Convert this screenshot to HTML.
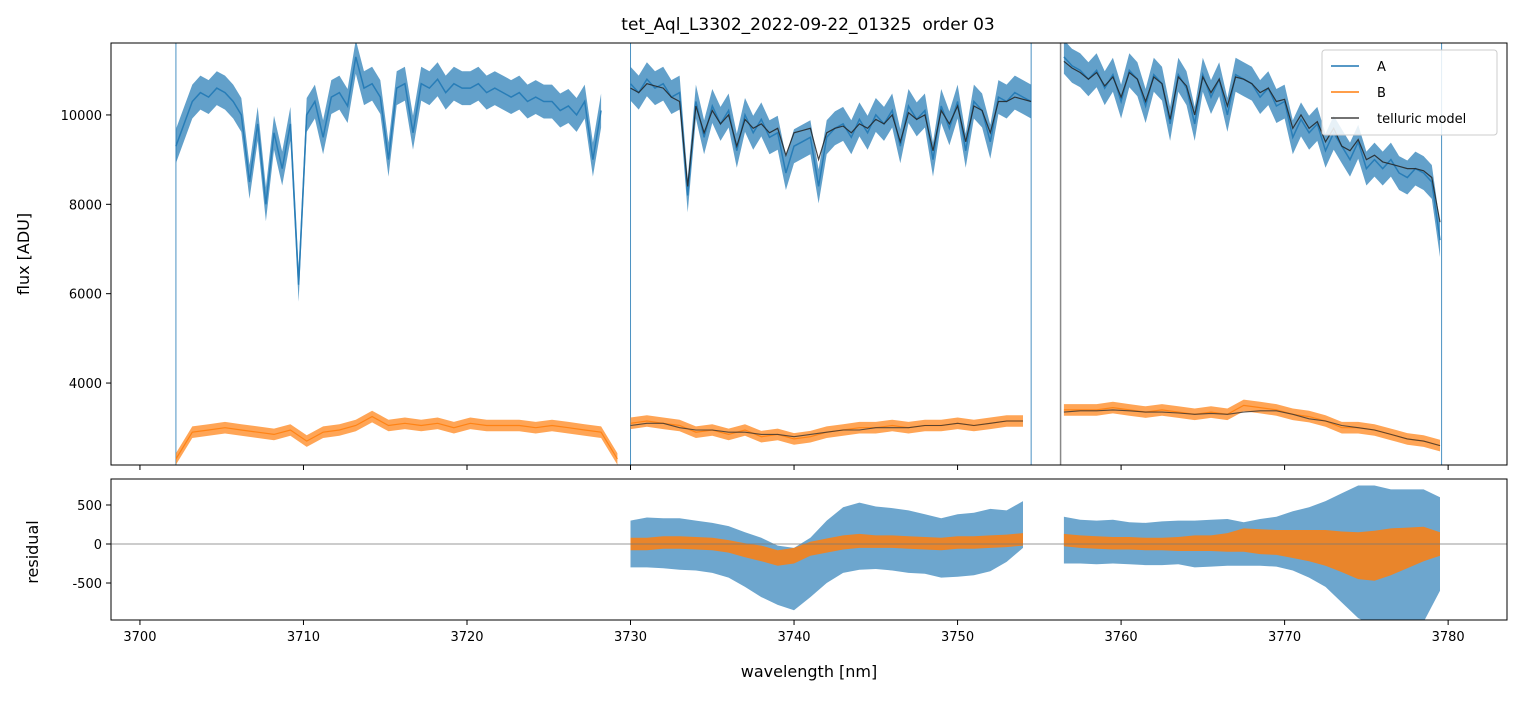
<!DOCTYPE html>
<html><head><meta charset="utf-8"><style>
body{margin:0;background:#fff;font-family:"Liberation Sans","DejaVu Sans",sans-serif}
svg text{font-family:"DejaVu Sans","Liberation Sans",sans-serif;white-space:pre}
</style></head><body>
<svg id="c" width="1520" height="696" xmlns="http://www.w3.org/2000/svg"></svg>
<script>
// ---- data ----
const seg1Start=3702.2, seg2Start=3730.0, seg3Start=3756.5, step=0.5;
const A1=[9300,9800,10300,10500,10400,10600,10500,10300,10000,8500,9800,8000,9600,8800,9800,6200,10000,10300,9500,10400,10500,10200,11300,10600,10700,10400,9000,10600,10700,9600,10700,10600,10800,10500,10700,10600,10600,10700,10500,10600,10500,10400,10500,10300,10400,10300,10300,10100,10200,10000,10300,9000,10100];
const A2=[10700,10500,10800,10600,10700,10400,10500,8200,10300,9500,10200,9800,10100,9200,10000,9600,9900,9500,9600,8700,9300,9400,9500,8400,9500,9700,9800,9500,9900,9600,10000,9800,10100,9300,10200,9900,10100,9000,10200,9700,10300,9200,10300,10100,9400,10400,10300,10500,10400,10300];
const M2=[10600,10500,10700,10650,10600,10400,10300,8400,10200,9600,10100,9800,10000,9300,9900,9700,9800,9600,9700,9100,9600,9650,9700,9000,9600,9700,9750,9600,9800,9700,9900,9800,10000,9400,10050,9900,10000,9200,10100,9800,10200,9400,10200,10100,9600,10300,10300,10400,10350,10300];
const A3=[11300,11100,11000,10800,11000,10600,10900,10300,11000,10800,10200,10900,10700,9800,10900,10600,9800,10900,10400,10800,10000,10900,10800,10700,10400,10600,10200,10300,9500,9900,9600,9800,9200,9600,9300,9000,9400,8800,9000,8800,9000,8700,8600,8800,8700,8500,7200];
const M3=[11200,11050,10950,10800,10950,10650,10850,10400,10950,10800,10300,10850,10700,9900,10850,10650,10000,10850,10500,10800,10200,10850,10800,10700,10500,10600,10300,10350,9700,10000,9700,9850,9400,9700,9300,9200,9450,9000,9100,8950,8900,8850,8800,8800,8750,8600,7600];
const B1=[2300,2900,2950,3000,2950,2900,2850,2950,2700,2900,2950,3050,3250,3050,3100,3050,3100,3000,3100,3050,3050,3050,3000,3050,3000,2950,2900,2300];
const B2=[3100,3150,3100,3050,2900,2950,2850,2950,2800,2850,2750,2800,2900,2950,3000,3000,3050,3000,3050,3050,3100,3050,3100,3150,3150];
const B3=[3400,3400,3400,3450,3400,3350,3400,3350,3300,3350,3300,3500,3450,3400,3300,3250,3150,3000,3000,2950,2850,2750,2700,2600];
const MB2=[3050,3100,3100,3000,2950,2950,2900,2900,2850,2850,2800,2850,2900,2950,2950,3000,3000,3000,3050,3050,3100,3050,3100,3150,3150];
const MB3=[3350,3380,3380,3400,3380,3350,3350,3330,3300,3320,3300,3350,3380,3380,3300,3200,3150,3050,3000,2950,2850,2750,2700,2600];
const resSeg2=3730, resSeg3=3756.5;
const RA2c=[0,20,10,0,-20,-50,-100,-200,-300,-400,-450,-300,-100,50,100,80,60,30,0,-50,-20,0,50,100,250];
const RA2s=[300,320,320,330,320,320,330,350,380,380,400,380,400,420,430,400,400,400,380,380,400,400,400,330,300];
const RA3c=[50,30,20,30,10,0,10,20,0,10,20,0,20,30,40,20,0,-50,-100,-150,-200,-200,-150,0];
const RA3s=[300,280,280,280,270,270,280,280,300,300,300,280,300,320,380,450,550,700,850,900,900,900,850,600];
const RB2c=[0,0,20,20,10,0,-30,-80,-120,-180,-150,-60,-20,20,40,30,30,20,10,0,20,20,30,40,60];
const RB2s=[80,80,80,80,80,80,80,90,100,100,100,90,90,90,90,80,80,80,80,80,80,80,80,80,80];
const RB3c=[50,30,20,10,10,0,0,0,10,10,20,50,30,20,0,-20,-50,-100,-150,-150,-100,-50,0,0];
const RB3s=[80,80,80,80,80,80,80,90,100,100,120,150,160,160,180,200,230,260,300,320,300,260,220,150];
const xTicks=[3700,3710,3720,3730,3740,3750,3760,3770,3780];
const yTicks=[4000,6000,8000,10000];
const rTicks=[500,0,-500];
const edges=[3702.2,3730.0,3754.5,3779.6];

// ---- axes ----
const L=111,R=1507,T1=43,B1y=465,T2=479,B2y=620;
const xmin=3698.23,xmax=3783.6,ymin=2166,ymax=11610,rmin=-974,rmax=833;
const X=v=>L+(v-xmin)/(xmax-xmin)*(R-L);
const Y=v=>B1y-(v-ymin)/(ymax-ymin)*(B1y-T1);
const YR=v=>B2y-(v-rmin)/(rmax-rmin)*(B2y-T2);
const svg=document.getElementById('c');const NS='http://www.w3.org/2000/svg';
function mk(tag,at,parent){const e=document.createElementNS(NS,tag);for(const k in at)e.setAttribute(k,at[k]);(parent||svg).appendChild(e);return e;}
const defs=mk('defs',{});
const cp1=mk('clipPath',{id:'cp1'},defs);mk('rect',{x:L,y:T1,width:R-L,height:B1y-T1},cp1);
const cp2=mk('clipPath',{id:'cp2'},defs);mk('rect',{x:L,y:T2,width:R-L,height:B2y-T2},cp2);
const g1=mk('g',{'clip-path':'url(#cp1)'});


const g2=mk('g',{'clip-path':'url(#cp2)'});



function line(arr,x0,st,fy,color,w,op,name,g){
  const pts=arr.map((v,i)=>X(x0+i*st).toFixed(1)+','+fy(v).toFixed(1)).join(' ');
  const e=mk('polyline',{points:pts,fill:'none',stroke:color,'stroke-width':w,opacity:op},g);
  
  
}
function band(arr,x0,st,fy,spread,color,op,name,g){
  const up=arr.map((v,i)=>X(x0+i*st).toFixed(1)+','+fy(v+spread).toFixed(1));
  const dn=arr.map((v,i)=>X(x0+i*st).toFixed(1)+','+fy(v-spread).toFixed(1)).reverse();
  const e=mk('polygon',{points:up.concat(dn).join(' '),fill:color,opacity:op},g);
  
  
}
function band2(c,s,x0,st,fy,color,op,name,g){
  const up=c.map((v,i)=>X(x0+i*st).toFixed(1)+','+fy(v+s[i]).toFixed(1));
  const dn=c.map((v,i)=>X(x0+i*st).toFixed(1)+','+fy(v-s[i]).toFixed(1)).reverse();
  const e=mk('polygon',{points:up.concat(dn).join(' '),fill:color,opacity:op},g);
  
  
}
const blue='#1f77b4',orange='#ff7f0e';
// flux A
[[A1,seg1Start],[A2,seg2Start],[A3,seg3Start]].forEach(([a,x0],k)=>{
  band(a,x0,step,Y,380,blue,0.7,'series-a-noise-'+(k+1),g1);
  line(a,x0,step,Y,blue,1.5,0.85,'series-a-segment-'+(k+1),g1);
});
edges.forEach(e=>{const l=mk('line',{x1:X(e),x2:X(e),y1:T1,y2:B1y,stroke:blue,'stroke-width':1,opacity:0.8},g1);

});
const ge=mk('line',{x1:X(3756.3),x2:X(3756.3),y1:T1,y2:B1y,stroke:'#888','stroke-width':1.5},g1);


// B
[[B1,3702.2],[B2,3730],[B3,3756.5]].forEach(([a,x0],k)=>{
  band(a,x0,1,Y,130,orange,0.7,'series-b-noise-'+(k+1),g1);
  line(a,x0,1,Y,orange,1.2,0.9,'series-b-segment-'+(k+1),g1);
});
// models
line(M2,seg2Start,step,Y,'#222',1.2,0.85,'telluric-model-a-2',g1);
line(M3,seg3Start,step,Y,'#222',1.2,0.85,'telluric-model-a-3',g1);
line(MB2,3730,1,Y,'#333',1.1,0.8,'telluric-model-b-2',g1);
line(MB3,3756.5,1,Y,'#333',1.1,0.8,'telluric-model-b-3',g1);
// residuals
band2(RA2c,RA2s,resSeg2,1,YR,blue,0.65,'residual-a-2',g2);
band2(RA3c,RA3s,resSeg3,1,YR,blue,0.65,'residual-a-3',g2);
band2(RB2c,RB2s,resSeg2,1,YR,orange,0.85,'residual-b-2',g2);
band2(RB3c,RB3s,resSeg3,1,YR,orange,0.85,'residual-b-3',g2);
const zl=mk('line',{x1:L,x2:R,y1:YR(0),y2:YR(0),stroke:'#777','stroke-width':0.8},g2);



// frames & ticks
[[T1,B1y,'flux-axes-frame'],[T2,B2y,'residual-axes-frame']].forEach(([t,b,n])=>{
  const r=mk('rect',{x:L,y:t,width:R-L,height:b-t,fill:'none',stroke:'#000','stroke-width':1});
  
  
});
function txt(s,x,y,at,name){const e=mk('text',Object.assign({x:x,y:y,'font-size':13,fill:'#000'},at||{}));e.textContent=s;

return e;}
xTicks.forEach(v=>{
  mk('line',{x1:X(v),x2:X(v),y1:B1y,y2:B1y+5,stroke:'#000'});
  mk('line',{x1:X(v),x2:X(v),y1:B2y,y2:B2y+5,stroke:'#000'});
  txt(v,X(v),B2y+21,{'text-anchor':'middle'},'x-tick-label');
});
yTicks.forEach(v=>{
  mk('line',{x1:L-5,x2:L,y1:Y(v),y2:Y(v),stroke:'#000'});
  txt(v,L-9,Y(v)+5,{'text-anchor':'end'},'y-tick-label');
});
rTicks.forEach(v=>{
  mk('line',{x1:L-5,x2:L,y1:YR(v),y2:YR(v),stroke:'#000'});
  txt(v,L-9,YR(v)+5,{'text-anchor':'end'},'residual-tick-label');
});
txt('tet_Aql_L3302_2022-09-22_01325  order 03',808,30,{'text-anchor':'middle','font-size':17},'chart-title');
txt('wavelength [nm]',809,677,{'text-anchor':'middle','font-size':16},'x-axis-title');
txt('flux [ADU]',29,254,{'text-anchor':'middle','font-size':16,transform:'rotate(-90 29 254)'},'y-axis-title');
txt('residual',38,552,{'text-anchor':'middle','font-size':16,transform:'rotate(-90 38 552)'},'residual-axis-title');
// legend
const lg=mk('g',{});


mk('rect',{x:1322,y:50,width:175,height:85,rx:3,fill:'#fff','fill-opacity':0.85,stroke:'#ccc'},lg);
[['A',blue,66],['B',orange,92],['telluric model','#444',118]].forEach(([n,c,y])=>{
  mk('line',{x1:1331,x2:1359,y1:y,y2:y,stroke:c,'stroke-width':1.5},lg);
  const t=mk('text',{x:1377,y:y+5,'font-size':13},lg);t.textContent=n;
  
  
});
</script>
</body></html>
